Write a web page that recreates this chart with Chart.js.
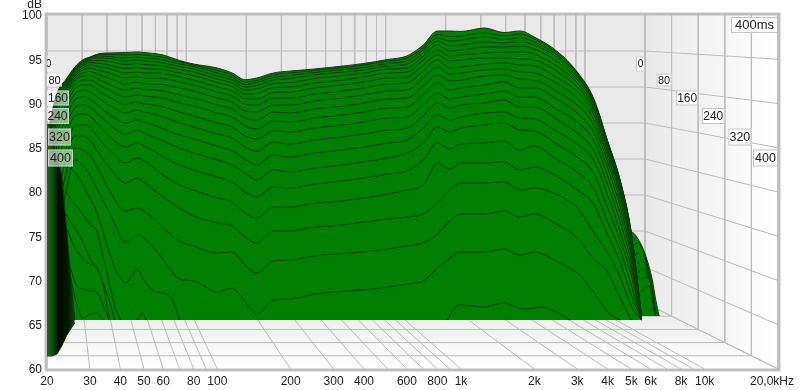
<!DOCTYPE html>
<html>
<head>
<meta charset="utf-8">
<script src="https://cdn.jsdelivr.net/npm/chart.js@4"></script>
<style>
    body { margin: 0; background: #fff; }
</style>
</head>
<body>
<canvas id="myChart" width="800" height="390"></canvas>
<script>
// axis labels
const xTickValues = [20, 30, 40, 50, 60, 80, 100, 200, 300, 400, 600, 800, 1000, 2000, 3000, 4000, 5000, 6000, 8000, 10000, 18900];
const xTickLabels = ['20', '30', '40', '50', '60', '80', '100', '200', '300', '400', '600', '800', '1k', '2k', '3k', '4k', '5k', '6k', '8k', '10k', '20,0kHz'];
const timeValues = [0, 80, 160, 240, 320, 400];
const timeLabels = ['0', '80', '160', '240', '320', '400'];
const timeLabelDb = [94.46, 92.65, 90.62, 88.59, 86.21, 83.84];

// grid of the 3d box
const wallDb = [100, 95, 90, 85, 80, 75, 70, 65, 60];
const gridFreq = [20, 30, 40, 50, 60, 70, 80, 90, 100, 200, 300, 400, 500, 600, 700, 800, 900, 1000, 2000, 3000, 4000, 5000, 6000, 7000, 8000, 9000, 10000, 20000];

// slices, as they read on the front dB and Hz scales
const freq = [20, 22, 24, 26, 28, 30, 33, 36, 42, 47, 50, 55, 60, 70, 80, 100, 115, 130, 145, 170, 200, 250, 300, 400, 500, 600, 700, 800, 900, 1000, 1250, 1500, 1750, 2000, 2500, 3000, 3500, 4000, 4500, 5000, 5500];
const s21 = [86.44, 91.19, 92.77, 94.12, 94.92, 95.25, 95.65, 95.71, 95.76, 95.82, 95.76, 95.65, 95.48, 94.86, 94.46, 94.01, 93.45, 92.69, 92.88, 93.45, 93.67, 93.9, 94.12, 94.52, 94.97, 95.37, 96.61, 98.19, 98.19, 98.14, 98.53, 98.02, 98.19, 97.51, 95.82, 93.56, 90.62, 85.76, 81.36, 75.48, 66.1];
const s20 = [86.21, 91.07, 92.65, 94.01, 94.8, 95.2, 95.54, 95.54, 95.48, 95.54, 95.48, 95.37, 95.2, 94.69, 94.35, 93.73, 93.22, 92.43, 92.6, 93.22, 93.45, 93.73, 93.95, 94.35, 94.8, 95.14, 96.33, 97.8, 97.57, 97.63, 97.97, 97.63, 97.85, 97.29, 95.65, 93.45, 90.45, 85.71, 81.3, 75.37, 66.1];
const s19 = [85.99, 90.96, 92.54, 93.9, 94.69, 95.14, 95.37, 95.31, 95.14, 95.25, 95.14, 95.09, 94.92, 94.46, 94.18, 93.45, 92.94, 92.15, 92.37, 92.94, 93.16, 93.5, 93.73, 94.07, 94.52, 94.8, 96.05, 97.4, 97.06, 97.17, 97.51, 97.23, 97.46, 96.95, 95.42, 93.22, 90.34, 85.6, 81.19, 75.25, 65.99];
const s18 = [85.76, 90.8, 92.43, 93.79, 94.58, 95.03, 95.14, 95.09, 94.8, 94.92, 94.8, 94.75, 94.58, 94.18, 93.9, 93.11, 92.66, 91.87, 92.03, 92.66, 92.82, 93.22, 93.45, 93.79, 94.24, 94.46, 95.71, 97.06, 96.5, 96.61, 96.95, 96.84, 97, 96.61, 95.14, 93, 90.17, 85.48, 81.07, 75.14, 65.99];
const s17 = [85.54, 90.62, 92.26, 93.67, 94.41, 94.86, 94.86, 94.75, 94.41, 94.52, 94.41, 94.35, 94.24, 93.84, 93.56, 92.77, 92.32, 91.53, 91.64, 92.26, 92.37, 92.82, 93.05, 93.45, 93.9, 94.01, 95.37, 96.61, 95.93, 96.05, 96.38, 96.38, 96.5, 96.16, 94.69, 92.71, 89.94, 85.31, 80.9, 75.03, 65.87];
const s16 = [85.2, 90.4, 92.09, 93.5, 94.24, 94.63, 94.52, 94.35, 93.95, 94.07, 93.95, 93.9, 93.84, 93.45, 93.16, 92.37, 91.92, 91.07, 91.13, 91.81, 91.87, 92.32, 92.54, 93, 93.45, 93.56, 94.92, 96.05, 95.37, 95.48, 95.71, 95.82, 95.82, 95.59, 94.12, 92.32, 89.6, 85.08, 80.68, 74.91, 65.76];
const s15 = [84.75, 90.17, 91.87, 93.33, 94.01, 94.35, 94.12, 93.95, 93.45, 93.56, 93.45, 93.45, 93.39, 93, 92.65, 91.87, 91.41, 90.56, 90.51, 91.24, 91.3, 91.75, 91.98, 92.43, 92.88, 93, 94.35, 95.48, 94.8, 94.92, 95.14, 95.14, 95.03, 94.92, 93.56, 91.87, 89.27, 84.75, 80.34, 74.7, 65.76];
const s14 = [84.2, 89.83, 91.64, 93.11, 93.79, 94.01, 93.73, 93.45, 92.88, 93, 92.88, 92.88, 92.82, 92.43, 92.09, 91.3, 90.85, 89.94, 89.83, 90.62, 90.62, 91.07, 91.3, 91.75, 92.2, 92.32, 93.67, 94.92, 94.01, 94.12, 94.46, 94.58, 94.35, 94.24, 92.88, 91.3, 88.81, 84.41, 79.99, 74.35, 65.65];
const s13 = [83.62, 89.38, 91.3, 92.88, 93.45, 93.62, 93.22, 92.88, 92.2, 92.43, 92.26, 92.2, 92.15, 91.75, 91.41, 90.62, 90.17, 89.15, 89.04, 89.83, 89.83, 90.28, 90.51, 90.96, 91.41, 91.52, 92.88, 94.12, 93.33, 93.45, 93.79, 93.9, 93.56, 93.45, 92.2, 90.62, 88.25, 83.95, 79.55, 74, 65.53];
const s12 = [82.82, 88.81, 90.96, 92.54, 93.11, 93.16, 92.65, 92.2, 91.52, 91.75, 91.58, 91.52, 91.41, 90.96, 90.62, 89.83, 89.38, 88.36, 88.14, 89.04, 88.93, 89.38, 89.6, 90.06, 90.51, 90.62, 91.98, 93.22, 92.54, 92.65, 93.11, 93.22, 92.77, 92.65, 91.3, 89.83, 87.57, 83.39, 78.98, 73.67, 65.53];
const s11 = [81.92, 88.14, 90.51, 92.09, 92.65, 92.65, 92.03, 91.52, 90.73, 90.96, 90.85, 90.73, 90.62, 90.06, 89.72, 88.93, 88.47, 87.46, 87.12, 88.02, 87.91, 88.36, 88.59, 89.04, 89.49, 89.6, 90.96, 92.32, 91.52, 91.75, 92.09, 92.43, 91.75, 91.75, 90.4, 88.93, 86.78, 82.71, 78.3, 73.22, 65.53];
const s10 = [80.79, 87.35, 89.94, 91.64, 92.09, 92.09, 91.3, 90.73, 89.94, 90.17, 89.94, 89.83, 89.6, 89.04, 88.59, 87.8, 87.35, 86.33, 85.99, 86.9, 86.78, 87.23, 87.46, 87.91, 88.36, 88.47, 89.83, 91.19, 90.51, 90.73, 91.07, 91.41, 90.73, 90.73, 89.27, 87.91, 85.87, 81.81, 77.51, 72.77, 65.53];
const s09 = [79.43, 86.44, 89.27, 91.07, 91.52, 91.3, 90.51, 89.83, 88.93, 89.27, 89.04, 88.81, 88.47, 87.8, 87.35, 86.55, 86.1, 85.08, 84.63, 85.65, 85.42, 85.87, 86.1, 86.55, 87, 87.23, 88.59, 90.06, 89.49, 89.83, 90.06, 90.4, 89.6, 89.6, 88.14, 86.67, 84.75, 80.79, 76.61, 72.09, 65.53];
const s08 = [77.97, 85.31, 88.47, 90.4, 90.73, 90.51, 89.6, 88.81, 87.8, 88.14, 87.91, 87.57, 87.12, 86.44, 85.99, 85.2, 84.63, 83.73, 83.05, 84.18, 83.95, 84.41, 84.63, 85.08, 85.54, 85.87, 87.23, 88.7, 88.14, 88.47, 88.93, 89.04, 88.36, 88.25, 86.78, 85.42, 83.62, 79.66, 75.48, 71.41, 65.53];
const s07 = [76.27, 84.18, 87.57, 89.49, 89.83, 89.6, 88.59, 87.68, 86.55, 87, 86.67, 86.2, 85.76, 84.97, 84.41, 83.62, 83.05, 82.15, 81.36, 82.49, 82.26, 82.71, 82.93, 83.39, 83.84, 84.41, 85.54, 87.35, 86.78, 87.23, 87.57, 87.8, 87, 86.89, 85.31, 83.95, 82.15, 78.2, 74.58, 70.62, 65.53];
const s06 = [74.35, 82.82, 86.44, 88.59, 88.81, 88.59, 87.35, 86.33, 85.08, 85.54, 85.2, 84.63, 83.95, 83.05, 82.48, 81.7, 81.13, 79.99, 79.43, 80.56, 80.45, 80.9, 81.13, 81.58, 82.03, 82.37, 83.62, 85.54, 84.86, 85.42, 85.54, 85.76, 84.75, 85.2, 83.62, 82.26, 80.45, 76.61, 73.45, 69.49, 65.53];
const s05 = [72.31, 81.13, 85.08, 87.46, 87.57, 87.35, 85.87, 84.75, 83.28, 83.84, 83.5, 82.71, 81.92, 80.79, 80.22, 79.32, 78.87, 77.63, 77.06, 78.3, 78.3, 78.76, 78.87, 79.32, 79.77, 80.22, 80.79, 83.28, 82.6, 83.28, 83.28, 83.39, 82.49, 82.82, 81.7, 80.22, 78.64, 75.14, 72.09, 68.36, 65.53];
const s04 = [70.05, 79.1, 83.84, 86.33, 86.33, 85.87, 84.18, 82.82, 81.02, 81.58, 81.13, 80.22, 79.43, 78.2, 77.29, 76.5, 76.16, 74.91, 74.24, 75.59, 75.59, 76.05, 76.16, 76.61, 76.95, 77.17, 77.51, 78.76, 80.22, 81.02, 81.02, 81.13, 80.22, 80.45, 79.66, 78.2, 75.48, 73.11, 70.4, 67.12, 65.53];
const s03 = [67.8, 76.83, 82.26, 84.97, 84.75, 84.18, 82.26, 80.22, 77.85, 78.2, 77.85, 76.95, 75.93, 74.46, 73.9, 73.11, 73.22, 71.75, 70.85, 72.2, 72.31, 72.77, 72.99, 73.22, 73.56, 73.9, 74.24, 75.25, 76.72, 77.51, 77.51, 77.85, 77.17, 77.51, 76.27, 74.8, 72.43, 70.96, 68.02, 65.53, null];
const s02 = [65.53, 74.6, 80.22, 83.62, 83.05, 81.92, 79.66, 77.74, 74.35, 75.14, 74.8, 73.67, 72.31, 70.17, 69.94, 68.7, 69.15, 67.57, 66.21, 67.8, 67.91, 68.47, 68.7, 68.93, 69.26, 69.6, 69.94, 71.41, 72.54, 73.22, 73.22, 73.56, 72.88, 73.22, 72.09, 70.85, 68.7, 66.44, 65.53, null, null];
const mainSlices = [s02, s03, s04, s05, s06, s07, s08, s09, s10, s11, s12, s13, s14, s15, s16, s17, s18, s19, s20, s21];

// late slices, only what is left above the floor at low frequencies
const lowFreq = [23, 24, 25, 26, 27, 28, 29, 30, 32, 34, 36, 38, 40, 42, 44, 47, 50, 53, 56, 60, 63, 66, 70];
const r01 = [null, null, 82.71, 82.26, 81.58, 80.9, 80, 79.32, 77.74, 75.48, 73.22, 71.41, 70.28, 69.72, 70.28, 71.19, 70.05, 69.15, 68.7, 68.59, 68.36, 67.57, 65.53];
const p05 = [null, 80, 79.2, 78.64, 78.08, 77.51, 76.95, 76.38, 75.59, 72.65, 69.72, 67, 65.53];
const p04 = [null, 77.51, 76.6, 75.93, 75.25, 74.46, 73.45, 72.54, 71.41, 69.72, 67.68, 65.53];
const p03 = [null, 75.93, 74.8, 73.67, 73.11, 72.54, 72.09, 71.86, 71.41, 69.49, 65.76];
const p02 = [74.8, 73.22, 71.41, 69.83, 69.15, 69.04, 68.93, 68.81, 68.7, 67.23, 65.53];
const p01 = [null, 72.09, 70.28, 68.14, 66.67, 65.76, 65.99, 66.21, 66.33, 65.53];
const bumpFreq = [47, 48, 49, 50, 51];
const bumpDb = [65.53, 65.99, 66.33, 66.1, 65.53];
const arcFreq = [880, 920, 960, 1000, 1100, 1250, 1400, 1500, 1650, 1800, 2000, 2200, 2400, 2600, 2800];
const arcDb = [65.53, 66.55, 67.12, 67.23, 67.12, 67, 67.34, 67.46, 67.12, 66.78, 66.89, 67, 66.55, 66.1, 65.53];

// small lobe behind the top end
const lobeFreq = [4900, 5100, 5300, 5500, 5700, 5900, 6100, 6300, 6500];
const lobe1 = [75.48, 75.37, 74.8, 74.01, 72.99, 71.64, 70.06, 67.8, 65.99];
const lobe2 = [null, 73.9, 74.24, 73.78, 72.65, 71.19, 69.26, 66.67, 65.99];
const lobe3 = [null, 72.54, 73.11, 73, 72.31, 70.85, 68.7, 65.99];
const lobe4 = [null, null, 71.98, 72.2, 71.86, 70.39, 68.02, 65.99];
const lobe5 = [null, null, 70.85, 71.3, 71.19, 69.94, 67.46, 65.99];
const lobe6 = [null, null, null, 69.94, 70.4, 70.17, 68.7, 65.99];
const lobe7 = [null, null, null, 68.7, 69.26, 69.38, 68.13, 65.99];
const lobe8 = [null, null, null, null, 67.57, 68.13, 67.57, 65.99];
const lobe9 = [null, null, null, null, null, 66.44, 66.89, 65.99];
const lobes = [lobe9, lobe8, lobe7, lobe6, lobe5, lobe4, lobe3, lobe2, lobe1];

// dark wedge of the lowest frequencies
const wedgeBottomFreq = [20, 21, 22, 23, 24, 25, 26];
const wedgeBottomDb = [61.47, 61.47, 61.7, 62.6, 63.73, 64.52, 65.19];
const wedgeTopFreq = [20, 21, 21.4, 22, 23, 24, 25, 26];
const wedgeTopDb = [88, 86.87, 84.75, 83.84, 81.92, 76.27, 70.62, 65.53];

const floorDb = 65.53;
const lobeFloorDb = 65.99;
const green = '#008000';
const sliceLine = '#0c3a0c';
const gridColor = '#bcbcbc';

// the back of the box is the front scaled towards 20 Hz / 100 dB
const backX = 0.818;
const backY = 0.8136;

function planeFreq(f, ms) {
    const s = backX + (1 - backX) * ms / 400;
    return 20 * Math.pow(f / 20, s);
}

function planeDb(v, ms) {
    const s = backY + (1 - backY) * ms / 400;
    return 100 - (100 - v) * s;
}

function toPoints(freqs, values) {
    const points = [];
    for (let i = 0; i < freqs.length; i++) {
        if (values[i] !== null && values[i] !== undefined) {
            points.push({ x: freqs[i], y: values[i] });
        }
    }
    return points;
}

function slice(freqs, values, fillTo) {
    return {
        data: toPoints(freqs, values),
        borderColor: sliceLine,
        borderWidth: 1,
        backgroundColor: green,
        fill: { value: fillTo },
        pointRadius: 0,
        cubicInterpolationMode: 'monotone'
    };
}

function gridLine(a, b) {
    return { data: [a, b], borderColor: gridColor, borderWidth: 1, pointRadius: 0, fill: false };
}

const ctx = document.getElementById('myChart').getContext('2d');

// the wedge is striped dark in the reference, closest to that is a sideways fade
const wedgeFade = ctx.createLinearGradient(47, 0, 76, 0);
wedgeFade.addColorStop(0, '#1c6a1c');
wedgeFade.addColorStop(0.2, '#114a11');
wedgeFade.addColorStop(0.4, '#021002');
wedgeFade.addColorStop(0.7, '#031503');
wedgeFade.addColorStop(1, '#0f4d0f');

// first dataset is drawn last, so this list runs from front to back
const datasets = [];

datasets.push({ data: toPoints(wedgeTopFreq, wedgeTopDb), borderColor: '#0c3a0c', borderWidth: 1, backgroundColor: wedgeFade, fill: '+1', pointRadius: 0 });
datasets.push({ data: toPoints(wedgeBottomFreq, wedgeBottomDb), borderColor: '#0c3a0c', borderWidth: 1, fill: false, pointRadius: 0 });

datasets.push(slice(bumpFreq, bumpDb, floorDb));
datasets.push(slice(lowFreq, p01, floorDb));
datasets.push(slice(lowFreq, p02, floorDb));
datasets.push(slice(lowFreq, p03, floorDb));
datasets.push(slice(lowFreq, p04, floorDb));
datasets.push(slice(lowFreq, p05, floorDb));
datasets.push(slice(arcFreq, arcDb, floorDb));
datasets.push(slice(lowFreq, r01, floorDb));

for (let i = 0; i < mainSlices.length; i++) {
    datasets.push(slice(freq, mainSlices[i], floorDb));
}
for (let i = 0; i < lobes.length; i++) {
    datasets.push(slice(lobeFreq, lobes[i], lobeFloorDb));
}

for (let i = 0; i < wallDb.length; i++) {
    datasets.push(gridLine({ x: 20, y: planeDb(wallDb[i], 0) }, { x: planeFreq(20000, 0), y: planeDb(wallDb[i], 0) }));
    datasets.push(gridLine({ x: planeFreq(20000, 0), y: planeDb(wallDb[i], 0) }, { x: 20000, y: wallDb[i] }));
}
for (let i = 0; i < gridFreq.length; i++) {
    datasets.push(gridLine({ x: planeFreq(gridFreq[i], 0), y: planeDb(100, 0) }, { x: planeFreq(gridFreq[i], 0), y: planeDb(60, 0) }));
    datasets.push(gridLine({ x: planeFreq(gridFreq[i], 0), y: planeDb(60, 0) }, { x: gridFreq[i], y: 60 }));
}
for (let i = 0; i < timeValues.length; i++) {
    const wallX = planeFreq(20000, timeValues[i]);
    datasets.push(gridLine({ x: wallX, y: planeDb(100, timeValues[i]) }, { x: wallX, y: planeDb(60, timeValues[i]) }));
    datasets.push(gridLine({ x: 20, y: planeDb(60, timeValues[i]) }, { x: wallX, y: planeDb(60, timeValues[i]) }));
}

// wall and floor shading of the box
const boxPlugin = {
    id: 'box',
    beforeDatasetsDraw(chart) {
        const { ctx, chartArea, scales } = chart;
        const px = (f, ms) => scales.x.getPixelForValue(planeFreq(f, ms));
        const py = (v, ms) => scales.y.getPixelForValue(planeDb(v, ms));
        const backR = px(20000, 0);
        const backB = py(60, 0);

        ctx.save();
        ctx.fillStyle = '#e9e9e9';
        ctx.fillRect(chartArea.left, chartArea.top, backR - chartArea.left, backB - chartArea.top);

        const wall = ctx.createLinearGradient(backR, 0, chartArea.right, 0);
        wall.addColorStop(0, '#e9e9e9');
        wall.addColorStop(1, '#ffffff');
        ctx.fillStyle = wall;
        ctx.beginPath();
        ctx.moveTo(backR, chartArea.top);
        ctx.lineTo(chartArea.right, chartArea.top);
        ctx.lineTo(chartArea.right, chartArea.bottom);
        ctx.lineTo(backR, backB);
        ctx.closePath();
        ctx.fill();

        const floor = ctx.createLinearGradient(0, backB, 0, chartArea.bottom);
        floor.addColorStop(0, '#e9e9e9');
        floor.addColorStop(1, '#ffffff');
        ctx.fillStyle = floor;
        ctx.beginPath();
        ctx.moveTo(chartArea.left, backB);
        ctx.lineTo(backR, backB);
        ctx.lineTo(chartArea.right, chartArea.bottom);
        ctx.lineTo(chartArea.left, chartArea.bottom);
        ctx.closePath();
        ctx.fill();
        ctx.restore();
    },
    afterDatasetsDraw(chart) {
        const { ctx, chartArea, scales } = chart;
        const boxWidth = [9, 15, 22, 23, 23, 25];
        const boxHeight = [15, 13, 15, 16, 17, 17];
        const fontSize = [10, 11, 12, 12, 12.5, 12.5];
        const leftEdge = [53, 62, 69, 69, 71, 73];

        ctx.save();
        ctx.textAlign = 'center';
        ctx.textBaseline = 'middle';

        // labels on the right wall
        for (let i = 0; i < timeLabels.length; i++) {
            const right = scales.x.getPixelForValue(planeFreq(20000, timeValues[i]));
            const y = scales.y.getPixelForValue(timeLabelDb[i]);
            ctx.fillStyle = '#fff';
            ctx.strokeStyle = '#c4c4c4';
            ctx.fillRect(right - boxWidth[i], y - boxHeight[i] / 2, boxWidth[i], boxHeight[i]);
            ctx.strokeRect(right - boxWidth[i] + 0.5, y - boxHeight[i] / 2 + 0.5, boxWidth[i] - 1, boxHeight[i] - 1);
            ctx.fillStyle = '#222';
            ctx.font = fontSize[i] + 'px "Liberation Sans"';
            ctx.fillText(timeLabels[i], right - boxWidth[i] / 2, y + 0.5);
        }

        // the same labels on the left, see-through and cut off by the frame
        ctx.beginPath();
        ctx.rect(chartArea.left, chartArea.top, chartArea.width, chartArea.height);
        ctx.clip();
        for (let i = 0; i < timeLabels.length; i++) {
            const y = scales.y.getPixelForValue(timeLabelDb[i]);
            ctx.fillStyle = 'rgba(255,255,255,0.55)';
            ctx.strokeStyle = 'rgba(255,255,255,0.45)';
            ctx.fillRect(leftEdge[i] - boxWidth[i], y - boxHeight[i] / 2, boxWidth[i], boxHeight[i]);
            ctx.strokeRect(leftEdge[i] - boxWidth[i] + 0.5, y - boxHeight[i] / 2 + 0.5, boxWidth[i] - 1, boxHeight[i] - 1);
            ctx.fillStyle = '#222';
            ctx.font = fontSize[i] + 'px "Liberation Sans"';
            ctx.fillText(timeLabels[i], leftEdge[i] - boxWidth[i] / 2, y + 0.5);
        }
        ctx.restore();

        ctx.save();
        ctx.strokeStyle = '#bdbdbd';
        ctx.lineWidth = 2;
        ctx.strokeRect(chartArea.left - 1, chartArea.top - 1, chartArea.width + 2, chartArea.height + 2);
        ctx.strokeStyle = '#e2e2e2';
        ctx.lineWidth = 1;
        ctx.strokeRect(chartArea.left - 2.5, chartArea.top - 2.5, chartArea.width + 5, chartArea.height + 5);

        // duration box in the corner
        ctx.fillStyle = '#fff';
        ctx.fillRect(chartArea.right - 47, chartArea.top + 2, 47, 16);
        ctx.strokeStyle = '#c4c4c4';
        ctx.strokeRect(chartArea.right - 46.5, chartArea.top + 2.5, 46, 15);
        ctx.fillStyle = '#222';
        ctx.font = '13px "Liberation Sans"';
        ctx.textAlign = 'center';
        ctx.textBaseline = 'middle';
        ctx.fillText('400ms', chartArea.right - 23.5, chartArea.top + 10.5);

        ctx.font = '12px "Liberation Sans"';
        ctx.textAlign = 'right';
        ctx.fillText('dB', 42, 5);
        ctx.restore();
    }
};

const myChart = new Chart(ctx, {
    type: 'line',
    data: { datasets: datasets },
    plugins: [boxPlugin],
    options: {
        responsive: false,
        animation: false,
        layout: { padding: { top: 15, right: 22, left: 0, bottom: 0 } },
        plugins: { legend: { display: false }, tooltip: { enabled: false } },
        scales: {
            x: {
                type: 'logarithmic',
                min: 20,
                max: 20000,
                border: { display: false },
                grid: { display: false, drawTicks: false },
                afterBuildTicks(scale) {
                    scale.ticks = xTickValues.map((v) => ({ value: v }));
                },
                afterFit(scale) {
                    scale.height = 21;
                },
                ticks: {
                    autoSkip: false,
                    maxRotation: 0,
                    padding: 5,
                    color: '#222',
                    font: { family: '"Liberation Sans"', size: 12 },
                    callback: (value, i) => xTickLabels[i]
                }
            },
            y: {
                min: 60,
                max: 100,
                border: { display: false },
                grid: { display: false, drawTicks: false },
                afterFit(scale) {
                    scale.width = 47;
                },
                ticks: {
                    stepSize: 5,
                    padding: 5,
                    labelOffset: 1,
                    color: '#222',
                    font: { family: '"Liberation Sans"', size: 12 }
                }
            }
        }
    }
});
</script>
</body>
</html>
